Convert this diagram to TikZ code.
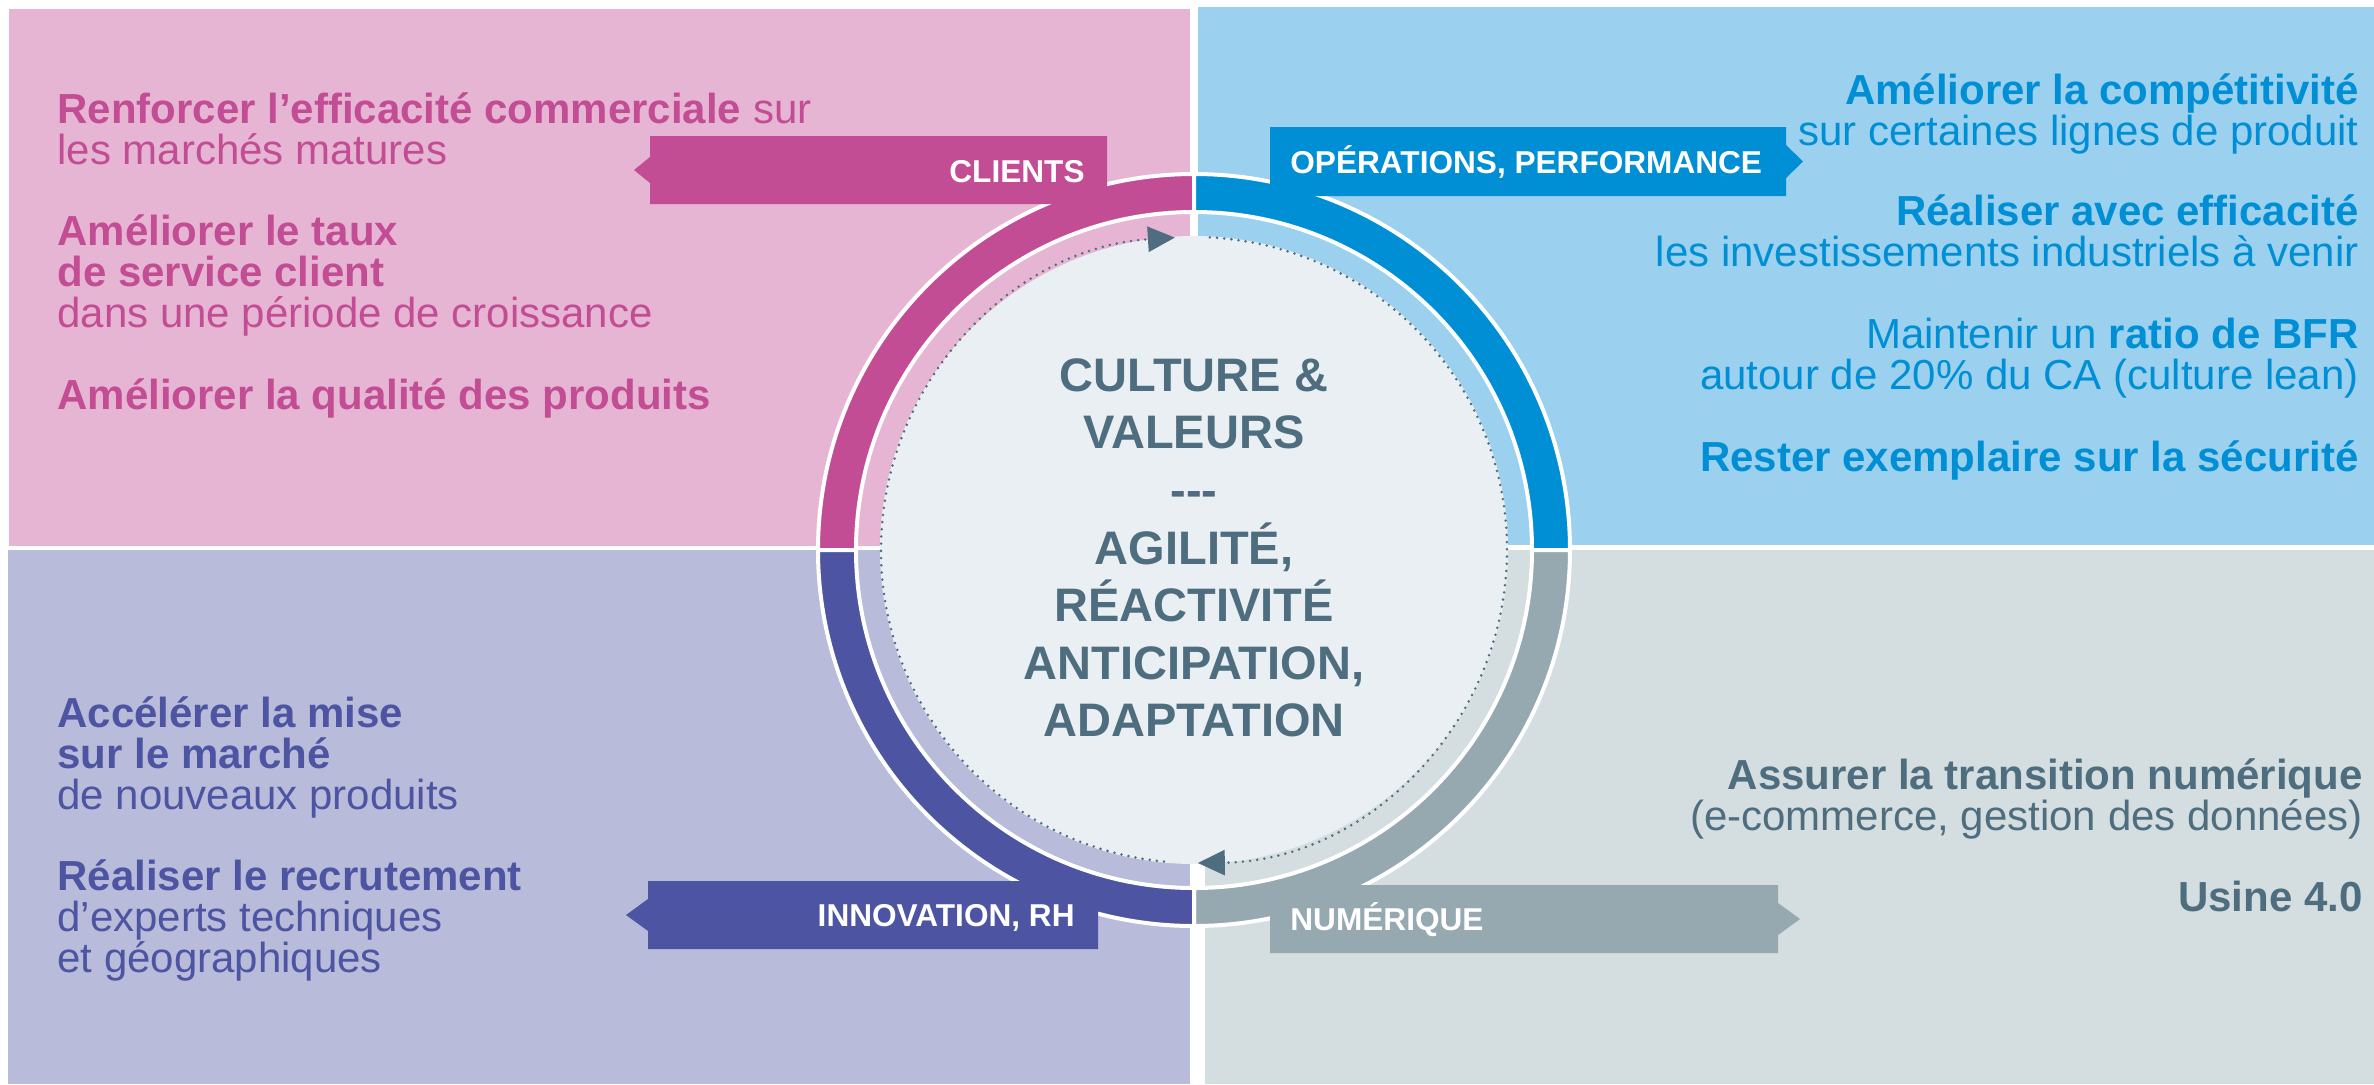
\documentclass[tikz,border=0pt]{standalone}
\usepackage{fontspec}
\setmainfont{Liberation Sans}
\usetikzlibrary{arrows.meta}

\definecolor{pinkbg}{HTML}{E6B5D3}
\definecolor{pinkdark}{HTML}{C24D94}
\definecolor{bluebg}{HTML}{9BD0EE}
\definecolor{bluedark}{HTML}{008FD5}
\definecolor{lavbg}{HTML}{B8BBD9}
\definecolor{lavdark}{HTML}{4D55A3}
\definecolor{greybg}{HTML}{D4DDE0}
\definecolor{greydark}{HTML}{96A9B0}
\definecolor{slate}{HTML}{4E6E7F}
\definecolor{corefill}{HTML}{E9EFF3}

\begin{document}
\begin{tikzpicture}[
    x=0.5pt, y=-0.5pt,
    ringseg/.style={draw=white, line width=2pt},
    taglabel/.style={inner sep=0pt, text=white, font=\fontsize{15.8}{18}\selectfont\bfseries},
    lefttext/.style={anchor=base west, align=left, inner sep=0pt, font=\fontsize{21}{20.5}\selectfont},
    righttext/.style={anchor=base east, align=right, inner sep=0pt, font=\fontsize{21}{20.5}\selectfont},
    loopdots/.style={slate, line width=1.4pt, line cap=round, dash pattern=on 0pt off 3.6pt,
        -{Triangle[length=13.5pt, width=12.5pt]}}
]
    \useasboundingbox (0,0) rectangle (2374,1084);
    \fill[white] (0,0) rectangle (2374,1084);

    % Quadrants
    \fill[pinkbg] (9,9) rectangle (1190,546);
    \fill[bluebg] (1198,7) rectangle (2374,545);
    \fill[lavbg] (8,550) rectangle (1190,1084);
    \fill[greybg] (1205,550) rectangle (2374,1084);

    % Ring
    \begin{scope}[shift={(1194,550)}]
        \foreach \a/\col in {180/pinkdark, 270/bluedark, 0/greydark, 90/lavdark} {
            \filldraw[ringseg, fill=\col] (\a:376) arc[start angle=\a, end angle=\a+90, radius=376]
                -- (\a+90:338) arc[start angle=\a+90, end angle=\a, radius=338] -- cycle;
        }
    \end{scope}

    % Tags
    \fill[pinkdark] (650,136) -- (1107,136) -- (1107,204) -- (650,204) -- (650,183) -- (634,170) -- (650,157) -- cycle;
    \fill[bluedark] (1270,127) -- (1786,127) -- (1786,145) -- (1803,161.5) -- (1786,178) -- (1786,196) -- (1270,196) -- cycle;
    \fill[lavdark] (648,881) -- (1098,881) -- (1098,949) -- (648,949) -- (648,931) -- (626,915) -- (648,899) -- cycle;
    \fill[greydark] (1270,885) -- (1778,885) -- (1778,903) -- (1800,919) -- (1778,935) -- (1778,953) -- (1270,953) -- cycle;

    \node[taglabel, anchor=base east] (clients) at (1085,182) {CLIENTS};
    \node[taglabel, anchor=base west] (operations) at (1290,173) {OPÉRATIONS, PERFORMANCE};
    \node[taglabel, anchor=base east] (innovation) at (1075,926) {INNOVATION, RH};
    \node[taglabel, anchor=base west] (numerique) at (1290,930) {NUMÉRIQUE};

    % Core
    \fill[corefill] (1194,550) circle[radius=314];
    \draw[loopdots] (1194,550) ++(95.5:313) arc[start angle=95.5, end angle=266.5, radius=313];
    \draw[loopdots] (1194,550) ++(-87.1:313) arc[start angle=-87.1, end angle=89.3, radius=313];
    \node[align=center, text=slate, inner sep=0pt, font=\fontsize{23.5}{28.8}\selectfont\bfseries] (core) at (1194,548)
        {CULTURE \&\\VALEURS\\-\kern0pt-\kern0pt-\\AGILITÉ,\\RÉACTIVITÉ\\ANTICIPATION,\\ADAPTATION};

    % Clients
    \node[lefttext, text=pinkdark] (cli1) at (57,164) {\textbf{Renforcer l’efficacité commerciale} sur\\les marchés matures};
    \node[lefttext, text=pinkdark] (cli2) at (57,327) {\textbf{Améliorer le taux}\\\textbf{de service client}\\dans une période de croissance};
    \node[lefttext, text=pinkdark] (cli3) at (57,409) {\textbf{Améliorer la qualité des produits}};

    % Operations
    \node[righttext, text=bluedark] (ops1) at (2359,145) {\textbf{Améliorer la compétitivité}\\sur certaines lignes de produit};
    \node[righttext, text=bluedark] (ops2) at (2359,266) {\textbf{Réaliser avec efficacité}\\les investissements industriels à venir};
    \node[righttext, text=bluedark] (ops3) at (2359,389) {Maintenir un \textbf{ratio de BFR}\\autour de 20\% du CA (culture lean)};
    \node[righttext, text=bluedark] (ops4) at (2359,471) {\textbf{Rester exemplaire sur la sécurité}};

    % Innovation
    \node[lefttext, text=lavdark] (inn1) at (57,809) {\textbf{Accélérer la mise}\\\textbf{sur le marché}\\de nouveaux produits};
    \node[lefttext, text=lavdark] (inn2) at (57,972) {\textbf{Réaliser le recrutement}\\d’experts techniques\\et géographiques};

    % Numerique
    \node[righttext, text=slate] (num1) at (2363,830) {\textbf{Assurer la transition numérique}\\(e-commerce, gestion des données)};
    \node[righttext, text=slate] (num2) at (2363,911) {\textbf{Usine 4.0}};
\end{tikzpicture}
\end{document}
